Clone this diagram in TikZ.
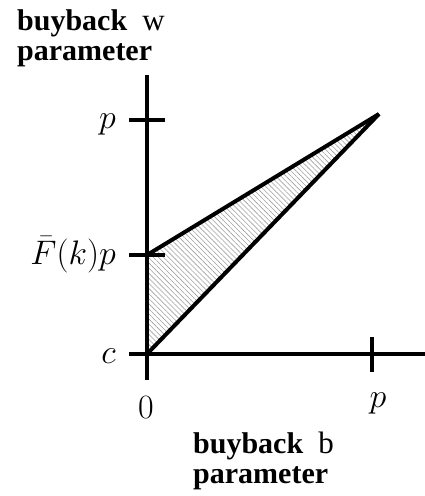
\RequirePackage{fix-cm}
\documentclass[tikz,border=0pt]{standalone}
\usepackage{fontspec}
\newfontfamily\labfont{Liberation Serif}
\usetikzlibrary{patterns.meta}
\newcommand{\lastletter}[1]{\hspace*{15pt}{\mdseries\fontsize{31}{30}\selectfont #1}}
\tikzset{
  axisline/.style={line width=4.5pt},
  tickline/.style={line width=4.5pt},
  edgeline/.style={line width=4pt},
  mathlab/.style={font=\fontsize{34}{38}\selectfont, inner sep=0pt},
  titlelab/.style={font=\labfont\bfseries\fontsize{30}{30}\selectfont, align=left, inner sep=0pt, anchor=north west},
}
\begin{document}
\begin{tikzpicture}[x=1pt,y=-1pt]
\useasboundingbox (0,0) rectangle (425,496);
% key points
\coordinate (O) at (147,354);
\coordinate (F) at (147,255);
\coordinate (V) at (379,114);
\coordinate (ytop) at (147,75);
\coordinate (ybot) at (147,380);
\coordinate (xend) at (425,354);
% hatched region
\fill[pattern={Lines[angle=-45,distance=3.6pt,line width=0.6pt]}, pattern color=gray!75] (O) -- (F) -- (V) -- cycle;
% axes
\draw[axisline] (ytop) -- (ybot);
\draw[axisline] (O) -- (xend);
% ticks
\coordinate (tpL) at (129,120); \coordinate (tpR) at (165,120);
\coordinate (tfL) at (129,255); \coordinate (tfR) at (165,255);
\coordinate (tcL) at (129,354); \coordinate (tcR) at (165,354);
\coordinate (txT) at (372,337); \coordinate (txB) at (372,372);
\draw[tickline] (tpL) -- (tpR);
\draw[tickline] (tfL) -- (tfR);
\draw[tickline] (tcL) -- (tcR);
\draw[tickline] (txT) -- (txB);
% triangle edges
\draw[edgeline] (F) -- (V);
\draw[edgeline] (O) -- (V);
% labels
\node[mathlab, anchor=base east] (lp) at (116,128) {$p$};
\node[mathlab, anchor=base east] (lf) at (116,264) {$\bar{F}(k)p$};
\node[mathlab, anchor=base east] (lc) at (116,363) {$c$};
\node[mathlab, anchor=base] (l0) at (146,418) {$0$};
\node[mathlab, anchor=base] (lpx) at (378,407) {$p$};
\node[titlelab] (ty) at (17,9) {buyback\lastletter{w}\\parameter};
\node[titlelab] (tx) at (193,432) {buyback\lastletter{b}\\parameter};
\end{tikzpicture}
\end{document}
